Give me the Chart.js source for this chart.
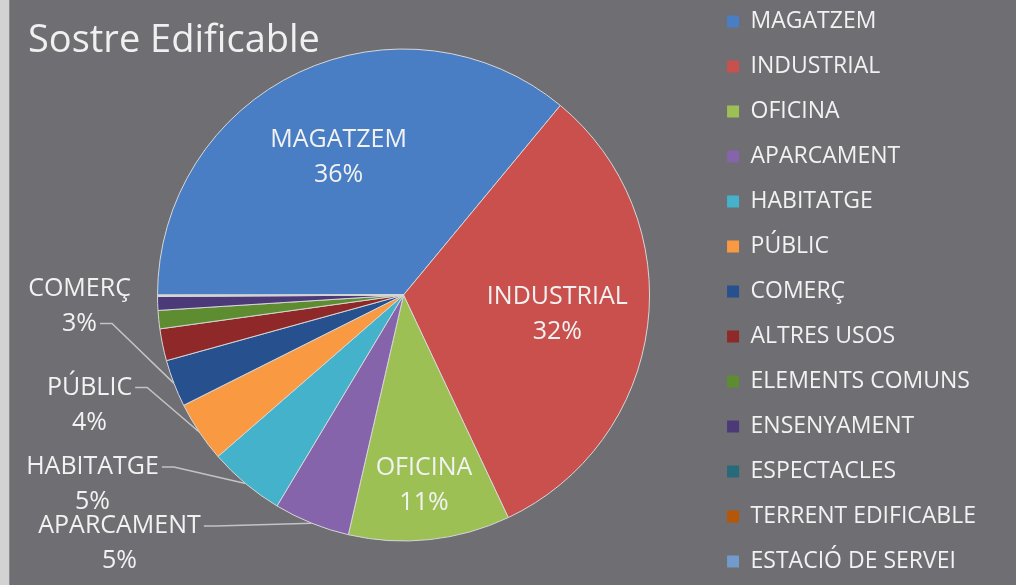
<!DOCTYPE html>
<html>
<head>
<meta charset="utf-8">
<script src="https://cdn.jsdelivr.net/npm/chart.js@4/dist/chart.umd.min.js"></script>
<style>
  html, body { margin: 0; padding: 0; width: 1016px; height: 585px; overflow: hidden; }
  body { background: linear-gradient(to right, #d2d2d2 0px, #d2d2d2 9px, #8a8a8e 9px, #8a8a8e 10px, #6e6e73 10px); position: relative; }
  #title { position: absolute; left: 28px; top: 18px; font-family: "Open Sans", sans-serif; font-size: 38px; line-height: 38px; color: #f0f0f0; white-space: nowrap; z-index: 2; }
  #wrap { position: absolute; left: 0; top: -12px; width: 1016px; height: 614px; }
</style>
</head>
<body>
<div id="title">Sostre Edificable</div>
<div id="wrap"><canvas id="c"></canvas></div>
<script>
// ---- data ----
const categories = ["MAGATZEM", "INDUSTRIAL", "OFICINA", "APARCAMENT", "HABITATGE", "PÚBLIC", "COMERÇ",
  "ALTRES USOS", "ELEMENTS COMUNS", "ENSENYAMENT", "ESPECTACLES", "TERRENT EDIFICABLE", "ESTACIÓ DE SERVEI"];
const values = [36, 32, 10.6, 5, 5, 4, 3.1, 2.1, 1.2, 0.9, 0.05, 0.02, 0.03];
const colors = ["#4a7ec4", "#c9504c", "#9cc054", "#8564ab", "#44b2cb", "#f99a42", "#27508f",
  "#8f2828", "#5e8c30", "#4c3a78", "#276a7c", "#b65708", "#729aca"];

// ---- label layout (style config) ----
const insideLabelRadius = { 0: 0.62, 1: 0.63, 2: 0.78 };
const outsideLabelOffset = {
  6: { dx: -324, dy: 11, line: 1 },
  5: { dx: -314, dy: 110, line: 0 },
  4: { dx: -311, dy: 189.5, line: 0 },
  3: { dx: -284, dy: 248.5, line: 0 }
};

const total = values.reduce((a, b) => a + b, 0);

const sliceLabels = {
  id: 'sliceLabels',
  afterDatasetsDraw(chart) {
    const ctx = chart.ctx;
    const meta = chart.getDatasetMeta(0);
    ctx.save();
    ctx.font = '25px "Open Sans"';
    ctx.fillStyle = '#f2f2f2';
    ctx.textAlign = 'center';
    ctx.textBaseline = 'middle';
    const lineGap = 35;
    meta.data.forEach((arc, i) => {
      const p = arc.getProps(['x', 'y', 'startAngle', 'endAngle', 'outerRadius'], true);
      const mid = (p.startAngle + p.endAngle) / 2;
      const lines = [categories[i], Math.round(values[i] / total * 100) + '%'];
      if (insideLabelRadius[i] !== undefined) {
        const f = insideLabelRadius[i];
        const cx = p.x + Math.cos(mid) * p.outerRadius * f;
        const cy = p.y + Math.sin(mid) * p.outerRadius * f;
        ctx.fillText(lines[0], cx, cy - lineGap / 2);
        ctx.fillText(lines[1], cx, cy + lineGap / 2);
      } else if (outsideLabelOffset[i] !== undefined) {
        const o = outsideLabelOffset[i];
        const cx = p.x + o.dx;
        const cy = p.y + o.dy;
        ctx.fillText(lines[0], cx, cy - lineGap / 2);
        ctx.fillText(lines[1], cx, cy + lineGap / 2);
        // leader line
        const ly = cy + (o.line === 0 ? -lineGap / 2 : lineGap / 2);
        const lx = cx + ctx.measureText(lines[o.line]).width / 2 + 3;
        const ex = p.x + Math.cos(mid) * p.outerRadius;
        const ey = p.y + Math.sin(mid) * p.outerRadius;
        ctx.beginPath();
        ctx.strokeStyle = '#c4c4c4';
        ctx.lineWidth = 1.5;
        ctx.moveTo(lx, ly);
        ctx.lineTo(lx + 12, ly);
        ctx.lineTo(ex, ey);
        ctx.stroke();
      }
    });
    ctx.restore();
  }
};

const baseGen = Chart.overrides.pie.plugins.legend.labels.generateLabels;

new Chart(document.getElementById('c'), {
  type: 'pie',
  data: {
    labels: categories,
    datasets: [{
      data: values,
      backgroundColor: colors,
      borderColor: '#d6d6d6',
      borderWidth: 1
    }]
  },
  options: {
    responsive: true,
    maintainAspectRatio: false,
    animation: false,
    rotation: -90,
    radius: 246,
    layout: { padding: { left: 102, right: 30, top: 0, bottom: 0 } },
    plugins: {
      tooltip: { enabled: false },
      legend: {
        position: 'right',
        align: 'start',
        labels: {
          color: '#f2f2f2',
          font: { family: '"Open Sans"', size: 23 },
          boxWidth: 12,
          boxHeight: 12,
          padding: 22,
          generateLabels(chart) {
            return baseGen(chart).map(l => Object.assign(l, { lineWidth: 0, strokeStyle: 'rgba(0,0,0,0)' }));
          }
        }
      }
    }
  },
  plugins: [sliceLabels]
});
</script>
</body>
</html>
